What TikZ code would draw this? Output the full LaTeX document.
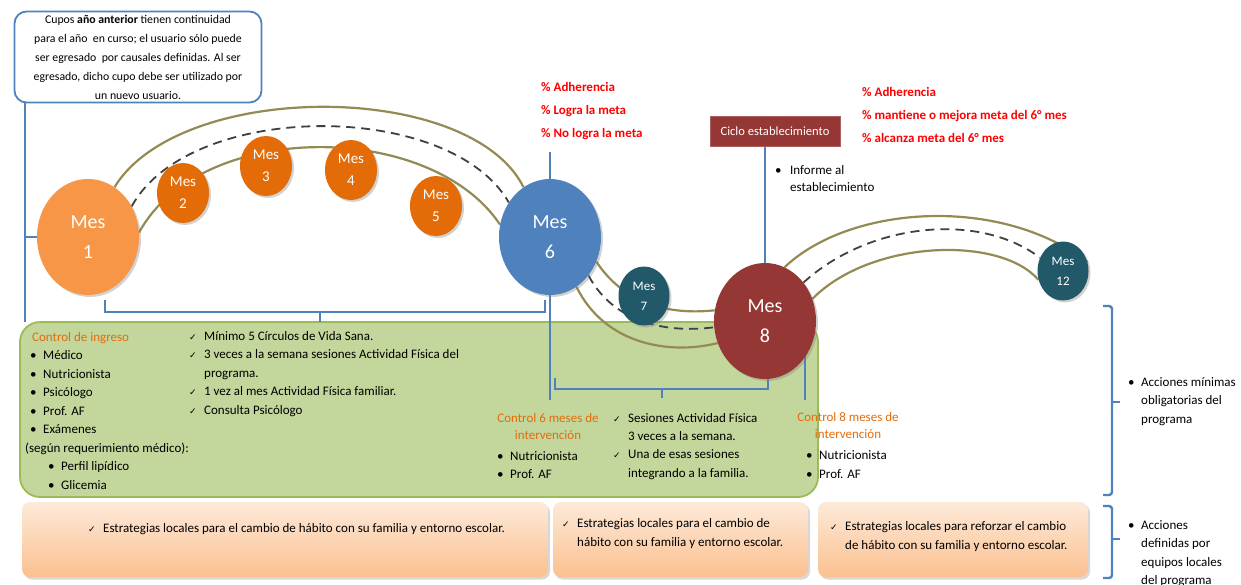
\documentclass[tikz,border=0pt]{standalone}
\usepackage{fontspec}
\setmainfont{Carlito}
\newfontfamily\symfont{DejaVu Sans}
\usetikzlibrary{shapes.geometric,shadows,backgrounds}
\definecolor{arccol}{HTML}{948A54}
\definecolor{bluel}{HTML}{4F81BD}
\definecolor{orgA}{HTML}{F79646}
\definecolor{orgB}{HTML}{E36C09}
\definecolor{tealc}{HTML}{215968}
\definecolor{redc}{HTML}{953735}
\definecolor{orgtxt}{HTML}{E46C0A}
\definecolor{greenfill}{HTML}{C3D69B}
\definecolor{greenline}{HTML}{9BBB59}
\definecolor{peachtop}{HTML}{FDEADA}
\definecolor{peachbot}{HTML}{FBC08F}
\definecolor{redtxt}{HTML}{FF0000}
\definecolor{dashcol}{HTML}{404040}
\newcommand{\mybul}{\makebox[13pt][l]{\textbullet}}
\newcommand{\mychk}{\makebox[15pt][l]{{\symfont\fontsize{9}{9}\selectfont ✓}}}
\begin{document}
\begin{tikzpicture}[x=1pt,y=-1pt,
  txt/.style={inner sep=0pt, font=\fontsize{13}{18.5}\selectfont, align=left},
  ctxt/.style={inner sep=0pt, font=\fontsize{13}{17}\selectfont, align=center, text=orgtxt},
  redlist/.style={inner sep=0pt, font=\bfseries\fontsize{13}{23}\selectfont, align=left, text=redtxt},
  mesbase/.style={ellipse, inner sep=0pt, text=white, align=center, draw=none,
     drop shadow={shadow xshift=2pt, shadow yshift=-2pt, opacity=0.35, fill=gray}},
  mesbig/.style={mesbase, minimum width=102pt, minimum height=116pt, font=\fontsize{20}{30}\selectfont},
  messm/.style={mesbase, minimum width=52pt, minimum height=60pt, font=\fontsize{15}{22}\selectfont},
  mesxs/.style={mesbase, minimum width=51pt, minimum height=59pt, font=\fontsize{13}{20}\selectfont},
  arcline/.style={draw=arccol, line width=2.2pt},
  dashline/.style={draw=dashcol, line width=1.8pt, dash pattern=on 9pt off 6pt},
  thinblue/.style={draw=bluel, line width=1.2pt},
  bracket/.style={draw=bluel, line width=2.4pt},
  peach/.style={rounded corners=8pt, top color=peachtop, bottom color=peachbot, draw=none,
     drop shadow={shadow xshift=2pt, shadow yshift=-2.5pt, opacity=0.3, fill=gray}}
]
\useasboundingbox (0,0) rectangle (1241,584);

% top-left note
\node[draw=bluel, line width=1.8pt, rounded corners=12pt, minimum width=247pt, minimum height=91pt,
      inner sep=0pt, align=center, font=\fontsize{11.8}{19}\selectfont, fill=white] (note) at (138,57)
  {Cupos \textbf{año anterior} tienen continuidad\\para el año \ en curso; el usuario sólo puede\\ser egresado \ por causales definidas. Al ser\\egresado, dicho cupo debe ser utilizado por\\un nuevo usuario.};

% month circles
\node[mesbig, fill=orgA] (m1) at (88,237) {Mes\\1};
\node[messm, fill=orgB] (m2) at (183,193) {Mes\\2};
\node[messm, fill=orgB] (m3) at (266,166) {Mes\\3};
\node[messm, fill=orgB] (m4) at (351,170) {Mes\\4};
\node[messm, fill=orgB] (m5) at (436,206) {Mes\\5};
\node[mesbig, fill=bluel] (m6) at (550,237) {Mes\\6};
\node[mesxs, fill=tealc] (m7) at (644,296) {Mes\\7};
\node[mesbig, fill=redc] (m8) at (765,321) {Mes\\8};
\node[mesxs, fill=tealc] (m12) at (1063,271) {Mes\\12};

% red indicator texts (base = last line)
\node[redlist, anchor=base west] (r6) at (541,137) {\% Adherencia\\\% Logra la meta\\\% No logra la meta};
\node[redlist, anchor=base west] (r8) at (862,142) {\% Adherencia\\\% mantiene o mejora meta del 6° mes\\\% alcanza meta del 6° mes};

% ciclo establecimiento
\node[fill=redc, draw=redc!80!white, line width=0.8pt, minimum width=130pt, minimum height=30pt, inner sep=0pt,
      text=white, font=\fontsize{12.6}{14}\selectfont] (cic) at (775,131) {Ciclo establecimiento};
\node[txt, anchor=base west, font=\fontsize{13}{17}\selectfont] (inf) at (775,191)
  {\makebox[15pt][l]{\textbullet}Informe al\\\hspace*{15pt}establecimiento};

% coordinates for free ends
\coordinate (lvtop) at (25,103);
\coordinate (lvbot) at (25,322);
\coordinate (v6top) at (550,152);
\coordinate (v6bot) at (550,400);
\coordinate (v8bot) at (805,400);

% bottom peach boxes
\node[peach, minimum width=526pt, minimum height=75pt] (b1) at (285,539.5) {};
\node[peach, minimum width=255pt, minimum height=75pt] (b2) at (680.5,539.5) {};
\node[peach, minimum width=270pt, minimum height=75pt] (b3) at (953,539.5) {};
\node[txt, anchor=base west] (t1) at (88,532) {\mychk Estrategias locales para el cambio de hábito con su familia y entorno escolar.};
\node[txt, anchor=base west] (t2) at (562,546) {\mychk Estrategias locales para el cambio de\\\hspace*{15pt}hábito con su familia y entorno escolar.};
\node[txt, anchor=base west] (t3) at (830,549) {\mychk Estrategias locales para reforzar el cambio\\\hspace*{15pt}de hábito con su familia y entorno escolar.};

% right side labels
\node[txt, anchor=base west] (acc1) at (1128,423) {\mybul Acciones mínimas\\\hspace*{13pt}obligatorias del\\\hspace*{13pt}programa};
\node[txt, anchor=base west] (acc2) at (1128,584.5) {\mybul Acciones\\\hspace*{13pt}definidas por\\\hspace*{13pt}equipos locales\\\hspace*{13pt}del programa};

% green box texts
\node[txt, anchor=base west, text=orgtxt] (cing) at (32,341) {Control de ingreso};
\node[txt, anchor=base west] (ingl) at (30,489)
  {\mybul Médico\\\mybul Nutricionista\\\mybul Psicólogo\\\mybul Prof. AF\\\mybul Exámenes\\\hspace*{-5pt}(según requerimiento médico):\\\hspace*{18pt}\mybul Perfil lipídico\\\hspace*{18pt}\mybul Glicemia};
\node[txt, anchor=base west] (chk1) at (189,414)
  {\mychk Mínimo 5 Círculos de Vida Sana.\\\mychk 3 veces a la semana sesiones Actividad Física del\\\hspace*{15pt}programa.\\\mychk 1 vez al mes Actividad Física familiar.\\\mychk Consulta Psicólogo};
\node[ctxt, anchor=base] (c6) at (548,439) {Control 6 meses de\\intervención};
\node[txt, anchor=base west] (c6l) at (497,478.5) {\mybul Nutricionista\\\mybul Prof. AF};
\node[txt, anchor=base west, font=\fontsize{13}{18.3}\selectfont] (chk6) at (613,477)
  {\mychk Sesiones Actividad Física\\\hspace*{15pt}3 veces a la semana.\\\mychk Una de esas sesiones\\\hspace*{15pt}integrando a la familia.};
\node[ctxt, anchor=base] (c8) at (848,438) {Control 8 meses de\\intervención};
\node[txt, anchor=base west] (c8l) at (806,478) {\mybul Nutricionista\\\mybul Prof. AF};

\begin{pgfonlayer}{background}
  \fill[white] (0,0) rectangle (1241,584);
  % green box
  \node[fill=greenfill, draw=greenline, line width=1.8pt, rounded corners=20pt,
        minimum width=798pt, minimum height=175pt, inner sep=0pt] (gb) at (419,409.5) {};
  % thin blue connectors
  \draw[thinblue] (lvtop) -- (lvbot);
  \draw[thinblue] (m1.center -| lvtop) -- (m1.center);
  \draw[thinblue] (v6top) -- (v6bot);
  \draw[thinblue] (cic.south -| m8.center) -- (m8.center);
  \draw[thinblue] (v8bot) -- (v8bot |- m8.center);
  % brackets
  \draw[bracket] (105,300) -- (105,312) -- (545,312) -- (545,300);
  \draw[bracket] (320,312) -- (320,322);
  \draw[bracket] (555,378) -- (555,389) -- (768,389) -- (768,378);
  \draw[bracket] (662,389) -- (662,398);
  \draw[bracket, rounded corners=3pt] (1103,306) -| (1112,402) |- (1103,495);
  \draw[bracket] (1112,402) -- (1120,402);
  \draw[bracket, rounded corners=3pt] (1103,506) -| (1112,539) |- (1103,578);
  \draw[bracket] (1112,539) -- (1120,539);
  % arcs months 1-6
  \draw[arcline] (m1.62) .. controls (180,80) and (470,80) .. (m6.118);
  \draw[arcline] (m1.5) .. controls (200,120) and (430,120) .. (m6.166);
  \draw[dashline] (m1.35) .. controls (190,100) and (450,100) .. (m6.140);
  % S-curve months 6-8
  \draw[arcline] (m6.-28) .. controls (625,305) and (670,315) .. (m8.168);
  \draw[arcline] (m6.-62) .. controls (605,345) and (670,355) .. (m8.205);
  \draw[dashline] (m6.-45) .. controls (615,325) and (670,333) .. (m8.187);
  % arcs months 8-12
  \draw[arcline] (m8.70) .. controls (850,205) and (1000,195) .. (m12.20);
  \draw[arcline] (m8.25) .. controls (870,240) and (1000,235) .. (m12.200);
  \draw[dashline] (m8.45) .. controls (870,222) and (980,212) .. (m12.150);
\end{pgfonlayer}
\end{tikzpicture}
\end{document}
